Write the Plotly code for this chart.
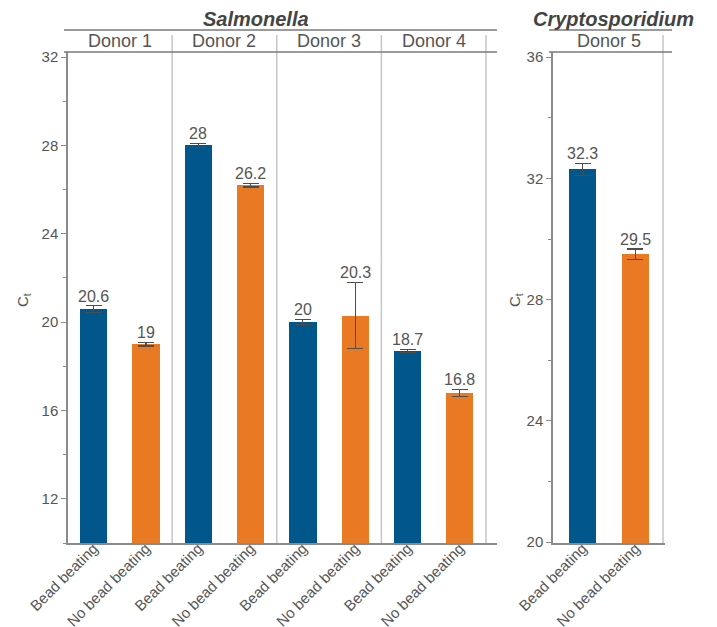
import plotly.graph_objects as go

# ---- data ----
donors_salmonella = ["Donor 1", "Donor 2", "Donor 3", "Donor 4"]
donors_crypto = ["Donor 5"]
methods = ["Bead beating", "No bead beating"]

salmonella_bead = [20.6, 28, 20, 18.7]
salmonella_bead_err = [0.15, 0.1, 0.12, 0.07]
salmonella_nobead = [19, 26.2, 20.3, 16.8]
salmonella_nobead_err = [0.08, 0.08, 1.5, 0.15]

crypto_bead = [32.3]
crypto_bead_err = [0.2]
crypto_nobead = [29.5]
crypto_nobead_err = [0.17]

salmonella_yticks = [12, 16, 20, 24, 28, 32]
salmonella_yminor = [10, 14, 18, 22, 26, 30]
crypto_yticks = [20, 24, 28, 32, 36]
crypto_yminor = [22, 26, 30, 34]

# ---- style ----
BLUE = "#01568B"
ORANGE = "#EA7923"
TEXT = "#555555"
AXIS = "#8a8a8a"
SEP = "#c6c6c6"
HEAD = "#7a7a7a"
FONT = "Liberation Sans, Arial, sans-serif"

W, H = 717, 627


def px(x):
    return x / W


def py(y):
    return 1 - y / H


fig = go.Figure()

annotations = []


def add_bars(xs, vals, errs, color, xa, ya):
    fig.add_trace(go.Bar(
        x=xs, y=vals, width=0.52, marker=dict(color=color, line=dict(width=0)),
        error_y=dict(type="data", array=errs, visible=True, color="#4d4d4d",
                     thickness=1.1, width=8),
        xaxis=xa, yaxis=ya, showlegend=False, hoverinfo="skip",
    ))
    for x, v, e in zip(xs, vals, errs):
        annotations.append(dict(
            x=x, y=v + e, xref=xa, yref=ya, text=f"{v:g}", showarrow=False,
            xanchor="center", yanchor="bottom", yshift=-1,
            font=dict(family=FONT, size=16, color=TEXT),
        ))


# Salmonella panel: two bars per donor
xs_bead = [2 * i for i in range(len(donors_salmonella))]
xs_nobead = [2 * i + 1 for i in range(len(donors_salmonella))]
add_bars(xs_bead, salmonella_bead, salmonella_bead_err, BLUE, "x", "y")
add_bars(xs_nobead, salmonella_nobead, salmonella_nobead_err, ORANGE, "x", "y")

# Cryptosporidium panel
add_bars([0], crypto_bead, crypto_bead_err, BLUE, "x2", "y2")
add_bars([1], crypto_nobead, crypto_nobead_err, ORANGE, "x2", "y2")

left_ticks = list(range(2 * len(donors_salmonella)))
left_labels = methods * len(donors_salmonella)

axis_common = dict(showgrid=False, zeroline=False, showline=True, linecolor=AXIS,
                   linewidth=1.5, automargin=False,
                   tickfont=dict(family=FONT, size=15, color=TEXT))

fig.update_layout(
    width=W, height=H, margin=dict(l=0, r=0, t=0, b=0, pad=0), autosize=False,
    paper_bgcolor="white", plot_bgcolor="white", bargap=0,
    xaxis=dict(domain=[px(68), px(497)], range=[-0.49, 7.71], tickvals=left_ticks,
               ticktext=left_labels, tickangle=-45, ticks="", ticklabelstandoff=-11,
               anchor="y", **axis_common),
    yaxis=dict(domain=[py(543), py(52)], range=[10, 32.23], tickvals=salmonella_yticks,
               ticks="outside", ticklen=5, tickcolor=AXIS, tickwidth=1, anchor="x",
               minor=dict(tickvals=salmonella_yminor, ticks="outside", ticklen=3,
                          tickcolor=AXIS),
               **axis_common),
    xaxis2=dict(domain=[px(553), px(665)], range=[-0.557, 1.557], tickvals=[0, 1],
                ticktext=methods, tickangle=-45, ticks="", ticklabelstandoff=-11,
                anchor="y2", **axis_common),
    yaxis2=dict(domain=[py(543), py(52)], range=[19.97, 36.17], tickvals=crypto_yticks,
                ticks="outside", ticklen=5, tickcolor=AXIS, tickwidth=1, anchor="x2",
                minor=dict(tickvals=crypto_yminor, ticks="outside", ticklen=3,
                           tickcolor=AXIS),
                **axis_common),
)

shapes = []
# donor separators inside the plot areas
for xv in [1.5, 3.5, 5.5, 7.5]:
    shapes.append(dict(type="line", xref="x", yref="y domain", x0=xv, x1=xv, y0=0, y1=1,
                       line=dict(color=SEP, width=1.5), layer="below"))
    shapes.append(dict(type="line", xref="x", yref="paper", x0=xv, x1=xv,
                       y0=py(52), y1=py(35), line=dict(color=SEP, width=1.5)))
shapes.append(dict(type="line", xref="x2", yref="y2 domain", x0=1.52, x1=1.52, y0=0, y1=1,
                   line=dict(color=SEP, width=1.5), layer="below"))
shapes.append(dict(type="line", xref="x2", yref="paper", x0=1.52, x1=1.52,
                   y0=py(52), y1=py(35), line=dict(color=SEP, width=1.5)))

# header rules
for (a, b) in [(64, 497), (549, 672)]:
    for yy in (30, 52):
        shapes.append(dict(type="line", xref="paper", yref="paper", x0=px(a), x1=px(b),
                           y0=py(yy), y1=py(yy), line=dict(color=HEAD, width=1.3)))

# donor labels
for i, d in enumerate(donors_salmonella):
    annotations.append(dict(x=2 * i + 0.5, y=py(41), xref="x", yref="paper", text=d,
                            xanchor="center", yanchor="middle", showarrow=False,
                            font=dict(family=FONT, size=18, color=TEXT)))
annotations.append(dict(x=0.5, y=py(41), xref="x2", yref="paper", text=donors_crypto[0],
                        xanchor="center", yanchor="middle", showarrow=False,
                        font=dict(family=FONT, size=18, color=TEXT)))

# organism titles
annotations.append(dict(x=px(256), y=py(19), xref="paper", yref="paper",
                        text="<b><i>Salmonella</i></b>", showarrow=False,
                        xanchor="center", yanchor="middle",
                        font=dict(family=FONT, size=20, color="#444444")))
annotations.append(dict(x=px(613), y=py(19), xref="paper", yref="paper",
                        text="<b><i>Cryptosporidium</i></b>", showarrow=False,
                        xanchor="center", yanchor="middle",
                        font=dict(family=FONT, size=20, color="#444444")))

# y-axis titles
for xx in (23, 515):
    annotations.append(dict(x=px(xx), y=py(300), xref="paper", yref="paper",
                            text="C<sub>t</sub>", textangle=-90, showarrow=False,
                            xanchor="center", yanchor="middle",
                            font=dict(family=FONT, size=15, color=TEXT)))

fig.update_layout(shapes=shapes, annotations=annotations)
fig.write_html("out.html")
